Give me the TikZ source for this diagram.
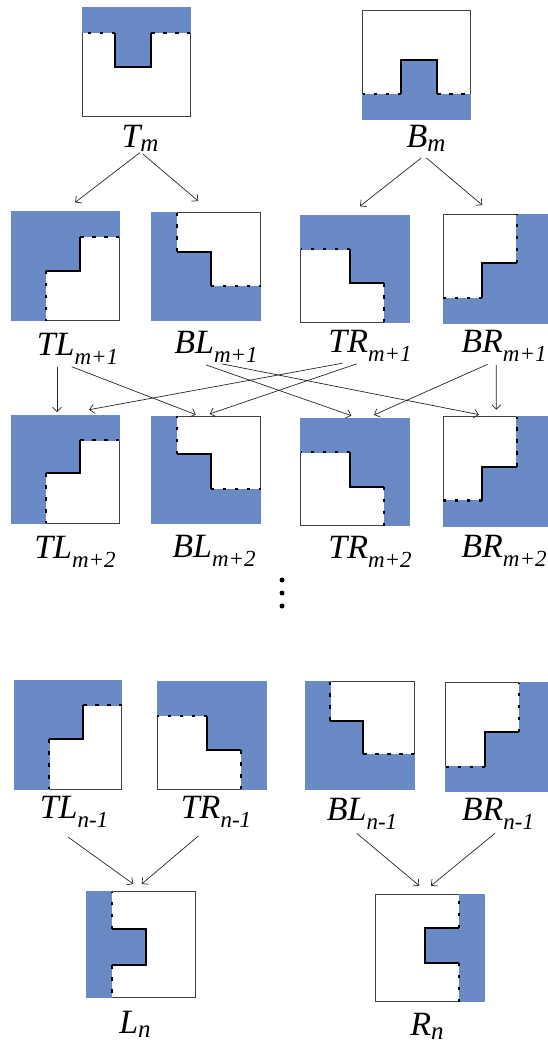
\documentclass[tikz,border=0pt]{standalone}
\usepackage{fontspec}
\setmainfont{Liberation Serif}[ItalicFont={Liberation Serif Italic}]
\usetikzlibrary{arrows.meta,fit}
\definecolor{myblue}{RGB}{106,138,198}
\newcommand{\sbA}[1]{\raisebox{-9pt}{\fontsize{23}{23}\selectfont #1}}
\newcommand{\sbB}[1]{\raisebox{-4pt}{\fontsize{25}{25}\selectfont #1}}
\tikzset{
  frm/.style={draw=black!75, line width=0.9pt, fill=white, inner sep=0pt, outer sep=0pt},
  blu/.style={fill=myblue, draw=myblue, line width=0.9pt},
  stepline/.style={line width=2pt, line join=miter},
  dashline/.style={line width=2.2pt, dash pattern=on 3.5pt off 8.5pt},
  lab/.style={anchor=base, inner sep=0pt, font=\rmfamily\fontsize{34}{38}\selectfont\itshape},
  arr/.style={line width=0.7pt, draw=black!85, -{Straight Barb[length=4.5pt,width=9pt]}},
  dotnode/.style={circle, fill=black, inner sep=0pt, minimum size=5pt}
}
% #1 name, #2 L, #3 T, #4 R, #5 B, #6 x1, #7 x2, #8 y1, #9 y2
\newcommand{\TLbox}[9]{%
  \node[frm, fit={(#2,#3)(#4,#5)}] (#1) {};
  \path[blu] (#2,#3) -- (#4,#3) -- (#4,#8) -- (#7,#8) -- (#7,#9) -- (#6,#9) -- (#6,#5) -- (#2,#5) -- cycle;
  \draw[stepline] (#7,#8) -- (#7,#9) -- (#6,#9);
  \draw[dashline] (#7,#8) -- (#4,#8);
  \draw[dashline] (#6,#9) -- (#6,#5);
}
\newcommand{\BLbox}[9]{%
  \node[frm, fit={(#2,#3)(#4,#5)}] (#1) {};
  \path[blu] (#2,#3) -- (#6,#3) -- (#6,#8) -- (#7,#8) -- (#7,#9) -- (#4,#9) -- (#4,#5) -- (#2,#5) -- cycle;
  \draw[stepline] (#6,#8) -- (#7,#8) -- (#7,#9);
  \draw[dashline] (#6,#8) -- (#6,#3);
  \draw[dashline] (#7,#9) -- (#4,#9);
}
\newcommand{\TRbox}[9]{%
  \node[frm, fit={(#2,#3)(#4,#5)}] (#1) {};
  \path[blu] (#2,#3) -- (#4,#3) -- (#4,#5) -- (#7,#5) -- (#7,#9) -- (#6,#9) -- (#6,#8) -- (#2,#8) -- cycle;
  \draw[stepline] (#6,#8) -- (#6,#9) -- (#7,#9);
  \draw[dashline] (#6,#8) -- (#2,#8);
  \draw[dashline] (#7,#9) -- (#7,#5);
}
\newcommand{\BRbox}[9]{%
  \node[frm, fit={(#2,#3)(#4,#5)}] (#1) {};
  \path[blu] (#7,#3) -- (#4,#3) -- (#4,#5) -- (#2,#5) -- (#2,#9) -- (#6,#9) -- (#6,#8) -- (#7,#8) -- cycle;
  \draw[stepline] (#7,#8) -- (#6,#8) -- (#6,#9);
  \draw[dashline] (#7,#8) -- (#7,#3);
  \draw[dashline] (#6,#9) -- (#2,#9);
}
\begin{document}
\begin{tikzpicture}[x=1pt, y=-1pt]
\useasboundingbox (0,0) rectangle (548,1045);

% ---- row 1 ----
\node[frm, fit={(82.7,7.3)(190,116.7)}] (Tm) {};
\path[blu] (82.7,7.3) -- (190,7.3) -- (190,32.7) -- (151,32.7) -- (151,66.7) -- (115,66.7) -- (115,32.7) -- (82.7,32.7) -- cycle;
\draw[stepline] (115,32.7) -- (115,66.7) -- (151,66.7) -- (151,32.7);
\draw[dashline] (115,32.7) -- (82.7,32.7);
\draw[dashline] (151,32.7) -- (190,32.7);

\node[frm, fit={(362.7,10.7)(470,119)}] (Bm) {};
\path[blu] (362.7,119) -- (470,119) -- (470,94) -- (437,94) -- (437,60.3) -- (401,60.3) -- (401,94) -- (362.7,94) -- cycle;
\draw[stepline] (401,94) -- (401,60.3) -- (437,60.3) -- (437,94);
\draw[dashline] (401,94) -- (362.7,94);
\draw[dashline] (437,94) -- (470,94);

\node[lab] (lTm) at (140,147) {T\sbB{m}};
\node[lab] (lBm) at (426,147) {B\sbB{m}};

% ---- row 2 ----
\TLbox{TLa}{11.7}{211.7}{119.3}{320.7}{45.7}{80}{236.7}{270.7}
\BLbox{BLa}{151.7}{212.7}{260.7}{320.7}{176.7}{210.7}{251.7}{286}
\TRbox{TRa}{300.7}{215}{409.3}{322.3}{350}{384.3}{249.3}{283.3}
\BRbox{BRa}{443.3}{214.3}{548}{323.3}{482.3}{516.7}{263.3}{298.3}

\node[lab] (lTLa) at (77.5,355) {TL\sbA{m+1}};
\node[lab] (lBLa) at (216,353) {BL\sbA{m+1}};
\node[lab] (lTRa) at (370,352) {TR\sbA{m+1}};
\node[lab] (lBRa) at (504,352) {BR\sbA{m+1}};

% ---- row 3 ----
\TLbox{TLb}{11.7}{415}{119.3}{523.3}{45.7}{80}{440}{473.3}
\BLbox{BLb}{151.7}{416}{260.7}{523.3}{176.7}{210.7}{454.3}{489.3}
\TRbox{TRb}{300.7}{418.3}{409.3}{525.7}{350}{384.3}{452.3}{486.7}
\BRbox{BRb}{443.3}{416.7}{548}{526}{482.3}{516.7}{466.7}{500.5}

\node[lab] (lTLb) at (75,558) {TL\sbA{m+2}};
\node[lab] (lBLb) at (214,557) {BL\sbA{m+2}};
\node[lab] (lTRb) at (370,558) {TR\sbA{m+2}};
\node[lab] (lBRb) at (504,557) {BR\sbA{m+2}};

% ---- dots ----
\node[dotnode] (d1) at (282,580) {};
\node[dotnode] (d2) at (282,593) {};
\node[dotnode] (d3) at (282,606) {};

% ---- row 4 ----
\TLbox{TLn}{14.3}{680.7}{121.7}{789}{49}{83.3}{705}{739}
\TRbox{TRn}{157.3}{681.7}{266.7}{789}{207.3}{241}{715.7}{750}
\BLbox{BLn}{305}{681.7}{414.3}{789}{330}{363.3}{720.7}{754.3}
\BRbox{BRn}{445.7}{682.7}{548}{791.7}{485}{519}{732.3}{766.7}

\node[lab] (lTLn) at (74,818) {TL\sbA{n-1}};
\node[lab] (lTRn) at (216,818) {TR\sbA{n-1}};
\node[lab] (lBLn) at (362,820) {BL\sbA{n-1}};
\node[lab] (lBRn) at (498,820) {BR\sbA{n-1}};

% ---- row 5 ----
\node[frm, fit={(86.7,891.7)(195,997.7)}] (Ln) {};
\path[blu] (86.7,891.7) -- (111.7,891.7) -- (111.7,929.3) -- (146,929.3) -- (146,965.3) -- (111.7,965.3) -- (111.7,997.7) -- (86.7,997.7) -- cycle;
\draw[stepline] (111.7,929.3) -- (146,929.3) -- (146,965.3) -- (111.7,965.3);
\draw[dashline] (111.7,929.3) -- (111.7,891.7);
\draw[dashline] (111.7,965.3) -- (111.7,997.7);

\node[frm, fit={(375,894.3)(484.3,1001.7)}] (Rn) {};
\path[blu] (459,894.3) -- (484.3,894.3) -- (484.3,1001.7) -- (459,1001.7) -- (459,962.7) -- (424.7,962.7) -- (424.7,928.3) -- (459,928.3) -- cycle;
\draw[stepline] (459,928.3) -- (424.7,928.3) -- (424.7,962.7) -- (459,962.7);
\draw[dashline] (459,928.3) -- (459,894.3);
\draw[dashline] (459,962.7) -- (459,1001.7);

\node[lab] (lLn) at (135,1033) {L\sbB{n}};
\node[lab] (lRn) at (427,1035) {R\sbB{n}};

% ---- arrows ----
\draw[arr] ([shift={(-0.2,5.7)}]lTm.base) -- ([shift={(9.6,-9.3)}]TLa.north);
\draw[arr] ([shift={(2.6,6.8)}]lTm.base) -- ([shift={(-8,-11.7)}]BLa.north);
\draw[arr] ([shift={(-4.8,11)}]lBm.base) -- ([shift={(5,-8.8)}]TRa.north);
\draw[arr] ([shift={(0.4,11)}]lBm.base) -- ([shift={(-13.35,-9.2)}]BRa.north);

\draw[arr] ([shift={(-20.5,11.7)}]lTLa.base) -- ([shift={(-8.5,-2.9)}]TLb.north);
\draw[arr] ([shift={(-5.8,11.7)}]lTLa.base) -- ([shift={(-10.5,-1.4)}]BLb.north);
\draw[arr] ([shift={(-9.8,12)}]lBLa.base) -- ([shift={(-3.7,-2.7)}]TRb.north);
\draw[arr] ([shift={(6,10.9)}]lBLa.base) -- ([shift={(-16.75,-2.1)}]BRb.north);
\draw[arr] ([shift={(-27.5,11.2)}]lTRa.base) -- ([shift={(23.6,-5.3)}]TLb.north);
\draw[arr] ([shift={(-13.5,11.9)}]lTRa.base) -- ([shift={(3.5,-2.1)}]BLb.north);
\draw[arr] ([shift={(-16.4,12.3)}]lBRa.base) -- ([shift={(19,-3.4)}]TRb.north);
\draw[arr] ([shift={(-7.7,13)}]lBRa.base) -- ([shift={(0.65,-7)}]BRb.north);

\draw[arr] ([shift={(-6,19)}]lTLn.base) -- ([shift={(-7.55,-7.7)}]Ln.north);
\draw[arr] ([shift={(-17.7,18)}]lTRn.base) -- ([shift={(0.85,-7.7)}]Ln.north);
\draw[arr] ([shift={(-5.3,13.3)}]lBLn.base) -- ([shift={(-10.35,-8.6)}]Rn.north);
\draw[arr] ([shift={(-3,13.3)}]lBRn.base) -- ([shift={(1.35,-8.6)}]Rn.north);
\end{tikzpicture}
\end{document}
